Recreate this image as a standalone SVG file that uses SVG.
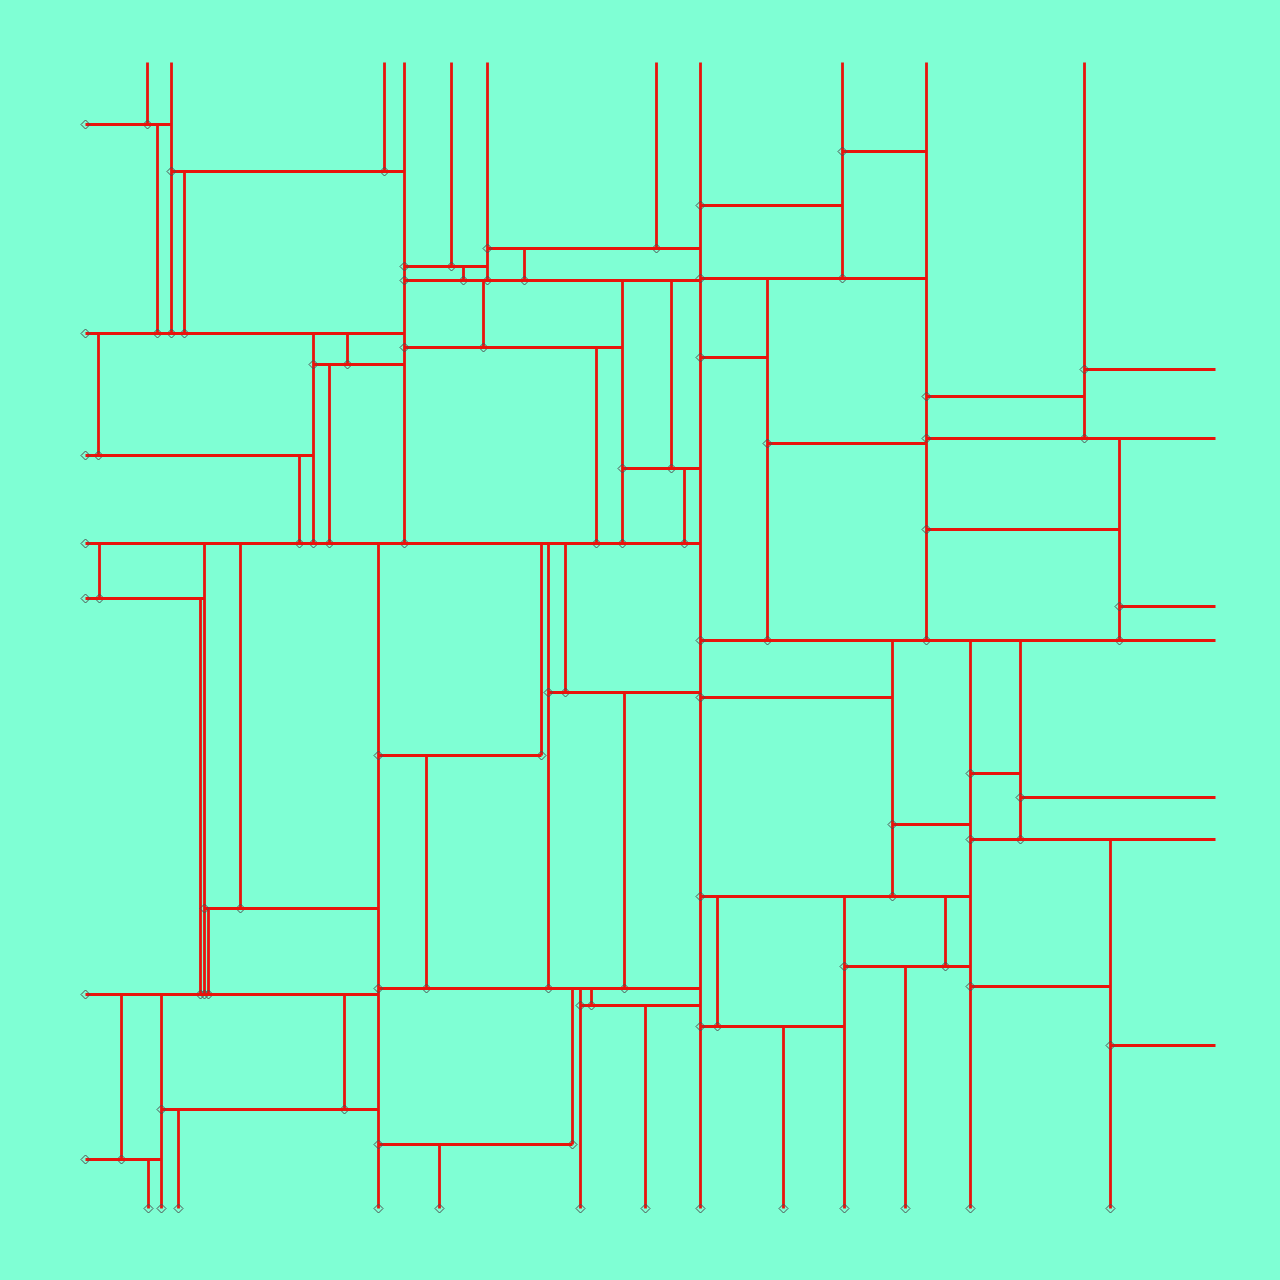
<svg xmlns="http://www.w3.org/2000/svg" width="1280" height="1280" viewBox="0 0 1280 1280">
<style>
.c{fill:none;stroke:#e8140c;stroke-width:2.8;marker-end:url(#d)}
</style>
<defs>
<marker id="d" markerUnits="userSpaceOnUse" markerWidth="12" markerHeight="12" refX="6" refY="6" orient="0" overflow="visible">
<path d="M6,1.5 L10.5,6 L6,10.5 L1.5,6 Z" fill="none" stroke="#505050" stroke-width="1"/>
</marker>
</defs>
<rect width="1280" height="1280" fill="#7fffd4"/>
<g id="connectors" transform="translate(0.5,0.5)">
<path class="c" d="M147 62V124"/>
<path class="c" d="M171 62V333"/>
<path class="c" d="M384 62V171"/>
<path class="c" d="M404 62V543"/>
<path class="c" d="M451 62V266"/>
<path class="c" d="M487 62V280"/>
<path class="c" d="M656 62V248"/>
<path class="c" d="M700 62V1208"/>
<path class="c" d="M842 62V278"/>
<path class="c" d="M926 62V640"/>
<path class="c" d="M1084 62V438"/>
<path class="c" d="M157 124V333"/>
<path class="c" d="M184 171V333"/>
<path class="c" d="M463 266V280"/>
<path class="c" d="M524 248V280"/>
<path class="c" d="M483 280V347"/>
<path class="c" d="M622 280V543"/>
<path class="c" d="M671 280V468"/>
<path class="c" d="M596 347V543"/>
<path class="c" d="M684 468V543"/>
<path class="c" d="M98 333V455"/>
<path class="c" d="M313 333V543"/>
<path class="c" d="M347 333V364"/>
<path class="c" d="M329 364V543"/>
<path class="c" d="M299 455V543"/>
<path class="c" d="M767 278V640"/>
<path class="c" d="M1119 438V640"/>
<path class="c" d="M99 543V598"/>
<path class="c" d="M204 543V994"/>
<path class="c" d="M200 598V994"/>
<path class="c" d="M240 543V908"/>
<path class="c" d="M208 908V994"/>
<path class="c" d="M378 543V1208"/>
<path class="c" d="M541 543V755"/>
<path class="c" d="M548 543V988"/>
<path class="c" d="M565 543V692"/>
<path class="c" d="M426 755V988"/>
<path class="c" d="M624 692V988"/>
<path class="c" d="M572 988V1144"/>
<path class="c" d="M580 988V1208"/>
<path class="c" d="M591 988V1005"/>
<path class="c" d="M645 1005V1208"/>
<path class="c" d="M439 1144V1208"/>
<path class="c" d="M121 994V1159"/>
<path class="c" d="M161 994V1208"/>
<path class="c" d="M344 994V1109"/>
<path class="c" d="M178 1109V1208"/>
<path class="c" d="M148 1159V1208"/>
<path class="c" d="M892 640V896"/>
<path class="c" d="M970 640V1208"/>
<path class="c" d="M1020 640V839"/>
<path class="c" d="M1110 839V1208"/>
<path class="c" d="M717 896V1026"/>
<path class="c" d="M844 896V1208"/>
<path class="c" d="M945 896V966"/>
<path class="c" d="M905 966V1208"/>
<path class="c" d="M783 1026V1208"/>
<path class="c" d="M171 124H85"/>
<path class="c" d="M404 171H171"/>
<path class="c" d="M926 151H842"/>
<path class="c" d="M842 205H700"/>
<path class="c" d="M700 248H487"/>
<path class="c" d="M487 266H404"/>
<path class="c" d="M926 278H700"/>
<path class="c" d="M700 280H404"/>
<path class="c" d="M404 333H85"/>
<path class="c" d="M622 347H404"/>
<path class="c" d="M767 357H700"/>
<path class="c" d="M404 364H313"/>
<path class="c" d="M1215 369H1084"/>
<path class="c" d="M1084 396H926"/>
<path class="c" d="M1215 438H926"/>
<path class="c" d="M926 443H767"/>
<path class="c" d="M313 455H85"/>
<path class="c" d="M700 468H622"/>
<path class="c" d="M1119 529H926"/>
<path class="c" d="M700 543H85"/>
<path class="c" d="M204 598H85"/>
<path class="c" d="M1215 606H1119"/>
<path class="c" d="M1215 640H700"/>
<path class="c" d="M700 692H548"/>
<path class="c" d="M892 697H700"/>
<path class="c" d="M541 755H378"/>
<path class="c" d="M1020 773H970"/>
<path class="c" d="M1215 797H1020"/>
<path class="c" d="M970 824H892"/>
<path class="c" d="M1215 839H970"/>
<path class="c" d="M970 896H700"/>
<path class="c" d="M378 908H204"/>
<path class="c" d="M970 966H844"/>
<path class="c" d="M1110 986H970"/>
<path class="c" d="M700 988H378"/>
<path class="c" d="M378 994H85"/>
<path class="c" d="M700 1005H580"/>
<path class="c" d="M844 1026H700"/>
<path class="c" d="M1215 1045H1110"/>
<path class="c" d="M378 1109H161"/>
<path class="c" d="M572 1144H378"/>
<path class="c" d="M161 1159H85"/>
</g>
</svg>
